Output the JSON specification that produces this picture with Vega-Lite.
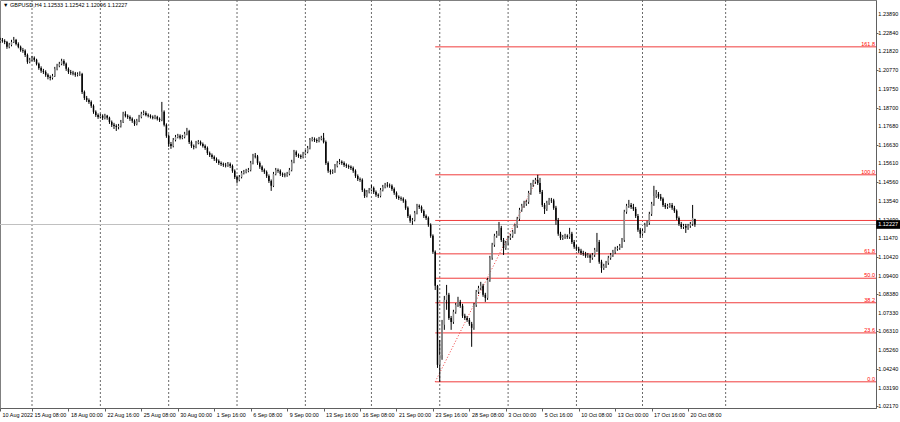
{
"$schema": "https://vega.github.io/schema/vega-lite/v6.json",
"width": 876, "height": 408,
"autosize": "none",
"padding": {"left": 0, "top": 0, "right": 24, "bottom": 14},
"background": "white",
"config": {"view": {"stroke": "#808080"}, "font": "Liberation Sans",
  "axis": {"labelOverlap": false, "labelBound": false, "labelFlush": false}},
"title": {"text": "\u25bc GBPUSD,H4  1.12533 1.12542 1.12096 1.12227", "anchor": "start", "frame": "group", "orient": "top", "offset": -9, "fontSize": 5.5, "fontWeight": "normal", "color": "#000000", "dx": 3},
"datasets": {
"grid": [{"i":0},{"i":30},{"i":60},{"i":90},{"i":120},{"i":149},{"i":179},{"i":209},{"i":239},{"i":268},{"i":304.5}],
"ticks": [{"v":1.0217,"t":"1.02170","x":371.1},{"v":1.0319,"t":"1.03190","x":371.1},{"v":1.0424,"t":"1.04240","x":371.1},{"v":1.0526,"t":"1.05260","x":371.1},{"v":1.0631,"t":"1.06310","x":371.1},{"v":1.0733,"t":"1.07330","x":371.1},{"v":1.0838,"t":"1.08380","x":371.1},{"v":1.094,"t":"1.09400","x":371.1},{"v":1.1042,"t":"1.10420","x":371.1},{"v":1.1147,"t":"1.11470","x":371.1},{"v":1.1249,"t":"1.12490","x":371.1},{"v":1.1354,"t":"1.13540","x":371.1},{"v":1.1456,"t":"1.14560","x":371.1},{"v":1.1561,"t":"1.15610","x":371.1},{"v":1.1663,"t":"1.16630","x":371.1},{"v":1.1768,"t":"1.17680","x":371.1},{"v":1.187,"t":"1.18700","x":371.1},{"v":1.1975,"t":"1.19750","x":371.1},{"v":1.2077,"t":"1.20770","x":371.1},{"v":1.2182,"t":"1.21820","x":371.1},{"v":1.2284,"t":"1.22840","x":371.1},{"v":1.2389,"t":"1.23890","x":371.1}],
"fib": [{"lvl":"161.8","p":1.2207,"s":177,"e":370.5},{"lvl":"100.0","p":1.1498,"s":177,"e":370.5},{"lvl":"61.8","p":1.1060,"s":177,"e":370.5},{"lvl":"50.0","p":1.0925,"s":177,"e":370.5},{"lvl":"38.2","p":1.0789,"s":177,"e":370.5},{"lvl":"23.6","p":1.0622,"s":177,"e":370.5},{"lvl":"0.0","p":1.0351,"s":177,"e":370.5},{"lvl":"","p":1.1245,"s":177,"e":370.5}],
"trend": [{"x1":177,"y1":1.0351,"x2":222.6,"y2":1.1498}],
"last": [{"p":1.12227,"lo":1.11987,"hi":1.12467,"a":370.6,"b":381.6,"t":"1.12227"}],
"bars": [
{"i":-14,"o":1.2238,"h":1.2257,"l":1.2229,"c":1.2245},
{"i":-13,"o":1.2245,"h":1.2256,"l":1.2230,"c":1.2240},
{"i":-12,"o":1.2240,"h":1.2249,"l":1.2222,"c":1.2234},
{"i":-11,"o":1.2234,"h":1.2240,"l":1.2196,"c":1.2207},
{"i":-10,"o":1.2207,"h":1.2229,"l":1.2199,"c":1.2218},
{"i":-9,"o":1.2218,"h":1.2246,"l":1.2210,"c":1.2234},
{"i":-8,"o":1.2234,"h":1.2262,"l":1.2228,"c":1.2245},
{"i":-7,"o":1.2245,"h":1.2251,"l":1.2215,"c":1.2223},
{"i":-6,"o":1.2223,"h":1.2232,"l":1.2199,"c":1.2207},
{"i":-5,"o":1.2207,"h":1.2214,"l":1.2180,"c":1.2190},
{"i":-4,"o":1.2190,"h":1.2201,"l":1.2174,"c":1.2185},
{"i":-3,"o":1.2185,"h":1.2193,"l":1.2151,"c":1.2162},
{"i":-2,"o":1.2162,"h":1.2170,"l":1.2113,"c":1.2124},
{"i":-1,"o":1.2124,"h":1.2146,"l":1.2116,"c":1.2135},
{"i":0,"o":1.2135,"h":1.2157,"l":1.2127,"c":1.2146},
{"i":1,"o":1.2146,"h":1.2154,"l":1.2124,"c":1.2135},
{"i":2,"o":1.2135,"h":1.2141,"l":1.2104,"c":1.2113},
{"i":3,"o":1.2113,"h":1.2120,"l":1.2080,"c":1.2090},
{"i":4,"o":1.2090,"h":1.2099,"l":1.2063,"c":1.2074},
{"i":5,"o":1.2074,"h":1.2085,"l":1.2057,"c":1.2068},
{"i":6,"o":1.2068,"h":1.2077,"l":1.2041,"c":1.2052},
{"i":7,"o":1.2052,"h":1.2060,"l":1.2027,"c":1.2040},
{"i":8,"o":1.2040,"h":1.2049,"l":1.2021,"c":1.2035},
{"i":9,"o":1.2035,"h":1.2057,"l":1.2026,"c":1.2046},
{"i":10,"o":1.2046,"h":1.2096,"l":1.2040,"c":1.2085},
{"i":11,"o":1.2085,"h":1.2113,"l":1.2077,"c":1.2102},
{"i":12,"o":1.2102,"h":1.2124,"l":1.2094,"c":1.2113},
{"i":13,"o":1.2113,"h":1.2141,"l":1.2105,"c":1.2129},
{"i":14,"o":1.2129,"h":1.2138,"l":1.2102,"c":1.2113},
{"i":15,"o":1.2113,"h":1.2120,"l":1.2074,"c":1.2085},
{"i":16,"o":1.2085,"h":1.2093,"l":1.2057,"c":1.2068},
{"i":17,"o":1.2068,"h":1.2079,"l":1.2052,"c":1.2063},
{"i":18,"o":1.2063,"h":1.2074,"l":1.2049,"c":1.2060},
{"i":19,"o":1.2060,"h":1.2068,"l":1.2041,"c":1.2052},
{"i":20,"o":1.2052,"h":1.2066,"l":1.2043,"c":1.2055},
{"i":21,"o":1.2055,"h":1.2071,"l":1.2046,"c":1.2057},
{"i":22,"o":1.2057,"h":1.2063,"l":1.1946,"c":1.1957},
{"i":23,"o":1.1957,"h":1.1965,"l":1.1913,"c":1.1924},
{"i":24,"o":1.1924,"h":1.1935,"l":1.1902,"c":1.1913},
{"i":25,"o":1.1913,"h":1.1921,"l":1.1891,"c":1.1902},
{"i":26,"o":1.1902,"h":1.1910,"l":1.1869,"c":1.1880},
{"i":27,"o":1.1880,"h":1.1888,"l":1.1836,"c":1.1847},
{"i":28,"o":1.1847,"h":1.1855,"l":1.1819,"c":1.1830},
{"i":29,"o":1.1830,"h":1.1838,"l":1.1808,"c":1.1819},
{"i":30,"o":1.1819,"h":1.1836,"l":1.1810,"c":1.1825},
{"i":31,"o":1.1825,"h":1.1833,"l":1.1802,"c":1.1814},
{"i":32,"o":1.1814,"h":1.1836,"l":1.1805,"c":1.1825},
{"i":33,"o":1.1825,"h":1.1830,"l":1.1803,"c":1.1814},
{"i":34,"o":1.1814,"h":1.1820,"l":1.1780,"c":1.1791},
{"i":35,"o":1.1791,"h":1.1799,"l":1.1763,"c":1.1775},
{"i":36,"o":1.1775,"h":1.1786,"l":1.1752,"c":1.1769},
{"i":37,"o":1.1769,"h":1.1778,"l":1.1741,"c":1.1763},
{"i":38,"o":1.1763,"h":1.1780,"l":1.1750,"c":1.1769},
{"i":39,"o":1.1769,"h":1.1802,"l":1.1760,"c":1.1791},
{"i":40,"o":1.1791,"h":1.1847,"l":1.1785,"c":1.1836},
{"i":41,"o":1.1836,"h":1.1850,"l":1.1816,"c":1.1825},
{"i":42,"o":1.1825,"h":1.1833,"l":1.1808,"c":1.1819},
{"i":43,"o":1.1819,"h":1.1827,"l":1.1797,"c":1.1808},
{"i":44,"o":1.1808,"h":1.1816,"l":1.1786,"c":1.1797},
{"i":45,"o":1.1797,"h":1.1805,"l":1.1769,"c":1.1780},
{"i":46,"o":1.1780,"h":1.1808,"l":1.1772,"c":1.1797},
{"i":47,"o":1.1797,"h":1.1830,"l":1.1790,"c":1.1819},
{"i":48,"o":1.1819,"h":1.1847,"l":1.1811,"c":1.1836},
{"i":49,"o":1.1836,"h":1.1855,"l":1.1828,"c":1.1841},
{"i":50,"o":1.1841,"h":1.1850,"l":1.1822,"c":1.1830},
{"i":51,"o":1.1830,"h":1.1838,"l":1.1816,"c":1.1825},
{"i":52,"o":1.1825,"h":1.1833,"l":1.1810,"c":1.1819},
{"i":53,"o":1.1819,"h":1.1827,"l":1.1805,"c":1.1814},
{"i":54,"o":1.1814,"h":1.1830,"l":1.1806,"c":1.1819},
{"i":55,"o":1.1819,"h":1.1825,"l":1.1799,"c":1.1808},
{"i":56,"o":1.1808,"h":1.1816,"l":1.1791,"c":1.1802},
{"i":57,"o":1.1802,"h":1.1902,"l":1.1795,"c":1.1847},
{"i":58,"o":1.1847,"h":1.1855,"l":1.1766,"c":1.1775},
{"i":59,"o":1.1775,"h":1.1783,"l":1.1703,"c":1.1714},
{"i":60,"o":1.1714,"h":1.1722,"l":1.1653,"c":1.1669},
{"i":61,"o":1.1669,"h":1.1680,"l":1.1642,"c":1.1658},
{"i":62,"o":1.1658,"h":1.1702,"l":1.1650,"c":1.1691},
{"i":63,"o":1.1691,"h":1.1719,"l":1.1683,"c":1.1708},
{"i":64,"o":1.1708,"h":1.1725,"l":1.1700,"c":1.1714},
{"i":65,"o":1.1714,"h":1.1722,"l":1.1694,"c":1.1703},
{"i":66,"o":1.1703,"h":1.1719,"l":1.1695,"c":1.1708},
{"i":67,"o":1.1708,"h":1.1736,"l":1.1700,"c":1.1725},
{"i":68,"o":1.1725,"h":1.1758,"l":1.1717,"c":1.1741},
{"i":69,"o":1.1741,"h":1.1747,"l":1.1669,"c":1.1680},
{"i":70,"o":1.1680,"h":1.1688,"l":1.1647,"c":1.1658},
{"i":71,"o":1.1658,"h":1.1666,"l":1.1639,"c":1.1653},
{"i":72,"o":1.1653,"h":1.1686,"l":1.1645,"c":1.1675},
{"i":73,"o":1.1675,"h":1.1691,"l":1.1667,"c":1.1680},
{"i":74,"o":1.1680,"h":1.1688,"l":1.1660,"c":1.1669},
{"i":75,"o":1.1669,"h":1.1677,"l":1.1649,"c":1.1658},
{"i":76,"o":1.1658,"h":1.1666,"l":1.1636,"c":1.1647},
{"i":77,"o":1.1647,"h":1.1655,"l":1.1608,"c":1.1619},
{"i":78,"o":1.1619,"h":1.1627,"l":1.1597,"c":1.1608},
{"i":79,"o":1.1608,"h":1.1616,"l":1.1586,"c":1.1597},
{"i":80,"o":1.1597,"h":1.1605,"l":1.1575,"c":1.1586},
{"i":81,"o":1.1586,"h":1.1594,"l":1.1564,"c":1.1575},
{"i":82,"o":1.1575,"h":1.1583,"l":1.1553,"c":1.1564},
{"i":83,"o":1.1564,"h":1.1572,"l":1.1547,"c":1.1558},
{"i":84,"o":1.1558,"h":1.1566,"l":1.1542,"c":1.1553},
{"i":85,"o":1.1553,"h":1.1564,"l":1.1539,"c":1.1550},
{"i":86,"o":1.1550,"h":1.1569,"l":1.1542,"c":1.1558},
{"i":87,"o":1.1558,"h":1.1566,"l":1.1536,"c":1.1547},
{"i":88,"o":1.1547,"h":1.1555,"l":1.1509,"c":1.1520},
{"i":89,"o":1.1520,"h":1.1528,"l":1.1475,"c":1.1486},
{"i":90,"o":1.1486,"h":1.1494,"l":1.1450,"c":1.1470},
{"i":91,"o":1.1470,"h":1.1497,"l":1.1462,"c":1.1486},
{"i":92,"o":1.1486,"h":1.1519,"l":1.1478,"c":1.1508},
{"i":93,"o":1.1508,"h":1.1525,"l":1.1500,"c":1.1514},
{"i":94,"o":1.1514,"h":1.1531,"l":1.1506,"c":1.1520},
{"i":95,"o":1.1520,"h":1.1536,"l":1.1512,"c":1.1525},
{"i":96,"o":1.1525,"h":1.1575,"l":1.1517,"c":1.1564},
{"i":97,"o":1.1564,"h":1.1614,"l":1.1556,"c":1.1603},
{"i":98,"o":1.1603,"h":1.1619,"l":1.1589,"c":1.1600},
{"i":99,"o":1.1600,"h":1.1608,"l":1.1553,"c":1.1564},
{"i":100,"o":1.1564,"h":1.1572,"l":1.1531,"c":1.1542},
{"i":101,"o":1.1542,"h":1.1550,"l":1.1514,"c":1.1525},
{"i":102,"o":1.1525,"h":1.1533,"l":1.1503,"c":1.1514},
{"i":103,"o":1.1514,"h":1.1522,"l":1.1481,"c":1.1492},
{"i":104,"o":1.1492,"h":1.1500,"l":1.1453,"c":1.1464},
{"i":105,"o":1.1464,"h":1.1472,"l":1.1409,"c":1.1437},
{"i":106,"o":1.1437,"h":1.1514,"l":1.1430,"c":1.1503},
{"i":107,"o":1.1503,"h":1.1536,"l":1.1495,"c":1.1525},
{"i":108,"o":1.1525,"h":1.1533,"l":1.1509,"c":1.1520},
{"i":109,"o":1.1520,"h":1.1528,"l":1.1492,"c":1.1503},
{"i":110,"o":1.1503,"h":1.1511,"l":1.1486,"c":1.1498},
{"i":111,"o":1.1498,"h":1.1509,"l":1.1484,"c":1.1495},
{"i":112,"o":1.1495,"h":1.1514,"l":1.1487,"c":1.1503},
{"i":113,"o":1.1503,"h":1.1536,"l":1.1495,"c":1.1525},
{"i":114,"o":1.1525,"h":1.1581,"l":1.1517,"c":1.1570},
{"i":115,"o":1.1570,"h":1.1636,"l":1.1562,"c":1.1625},
{"i":116,"o":1.1625,"h":1.1633,"l":1.1597,"c":1.1608},
{"i":117,"o":1.1608,"h":1.1616,"l":1.1592,"c":1.1603},
{"i":118,"o":1.1603,"h":1.1611,"l":1.1586,"c":1.1597},
{"i":119,"o":1.1597,"h":1.1625,"l":1.1589,"c":1.1614},
{"i":120,"o":1.1614,"h":1.1636,"l":1.1606,"c":1.1625},
{"i":121,"o":1.1625,"h":1.1658,"l":1.1617,"c":1.1647},
{"i":122,"o":1.1647,"h":1.1702,"l":1.1639,"c":1.1691},
{"i":123,"o":1.1691,"h":1.1708,"l":1.1683,"c":1.1697},
{"i":124,"o":1.1697,"h":1.1705,"l":1.1680,"c":1.1691},
{"i":125,"o":1.1691,"h":1.1700,"l":1.1675,"c":1.1686},
{"i":126,"o":1.1686,"h":1.1708,"l":1.1678,"c":1.1697},
{"i":127,"o":1.1697,"h":1.1714,"l":1.1689,"c":1.1703},
{"i":128,"o":1.1703,"h":1.1730,"l":1.1672,"c":1.1680},
{"i":129,"o":1.1680,"h":1.1688,"l":1.1553,"c":1.1564},
{"i":130,"o":1.1564,"h":1.1572,"l":1.1509,"c":1.1520},
{"i":131,"o":1.1520,"h":1.1528,"l":1.1500,"c":1.1514},
{"i":132,"o":1.1514,"h":1.1528,"l":1.1503,"c":1.1517},
{"i":133,"o":1.1517,"h":1.1558,"l":1.1509,"c":1.1547},
{"i":134,"o":1.1547,"h":1.1575,"l":1.1539,"c":1.1564},
{"i":135,"o":1.1564,"h":1.1586,"l":1.1556,"c":1.1570},
{"i":136,"o":1.1570,"h":1.1578,"l":1.1553,"c":1.1564},
{"i":137,"o":1.1564,"h":1.1572,"l":1.1542,"c":1.1553},
{"i":138,"o":1.1553,"h":1.1561,"l":1.1536,"c":1.1547},
{"i":139,"o":1.1547,"h":1.1555,"l":1.1531,"c":1.1542},
{"i":140,"o":1.1542,"h":1.1550,"l":1.1525,"c":1.1536},
{"i":141,"o":1.1536,"h":1.1544,"l":1.1509,"c":1.1520},
{"i":142,"o":1.1520,"h":1.1528,"l":1.1481,"c":1.1492},
{"i":143,"o":1.1492,"h":1.1500,"l":1.1464,"c":1.1475},
{"i":144,"o":1.1475,"h":1.1483,"l":1.1459,"c":1.1470},
{"i":145,"o":1.1470,"h":1.1478,"l":1.1403,"c":1.1414},
{"i":146,"o":1.1414,"h":1.1422,"l":1.1370,"c":1.1381},
{"i":147,"o":1.1381,"h":1.1414,"l":1.1373,"c":1.1403},
{"i":148,"o":1.1403,"h":1.1425,"l":1.1395,"c":1.1414},
{"i":149,"o":1.1414,"h":1.1442,"l":1.1406,"c":1.1425},
{"i":150,"o":1.1425,"h":1.1433,"l":1.1392,"c":1.1403},
{"i":151,"o":1.1403,"h":1.1411,"l":1.1376,"c":1.1387},
{"i":152,"o":1.1387,"h":1.1395,"l":1.1370,"c":1.1381},
{"i":153,"o":1.1381,"h":1.1425,"l":1.1373,"c":1.1414},
{"i":154,"o":1.1414,"h":1.1442,"l":1.1406,"c":1.1431},
{"i":155,"o":1.1431,"h":1.1453,"l":1.1423,"c":1.1442},
{"i":156,"o":1.1442,"h":1.1458,"l":1.1428,"c":1.1439},
{"i":157,"o":1.1439,"h":1.1450,"l":1.1426,"c":1.1437},
{"i":158,"o":1.1437,"h":1.1445,"l":1.1409,"c":1.1420},
{"i":159,"o":1.1420,"h":1.1428,"l":1.1387,"c":1.1398},
{"i":160,"o":1.1398,"h":1.1406,"l":1.1365,"c":1.1376},
{"i":161,"o":1.1376,"h":1.1384,"l":1.1359,"c":1.1370},
{"i":162,"o":1.1370,"h":1.1378,"l":1.1354,"c":1.1365},
{"i":163,"o":1.1365,"h":1.1373,"l":1.1343,"c":1.1354},
{"i":164,"o":1.1354,"h":1.1362,"l":1.1304,"c":1.1315},
{"i":165,"o":1.1315,"h":1.1323,"l":1.1259,"c":1.1270},
{"i":166,"o":1.1270,"h":1.1278,"l":1.1232,"c":1.1243},
{"i":167,"o":1.1243,"h":1.1259,"l":1.1221,"c":1.1248},
{"i":168,"o":1.1248,"h":1.1298,"l":1.1240,"c":1.1287},
{"i":169,"o":1.1287,"h":1.1337,"l":1.1279,"c":1.1326},
{"i":170,"o":1.1326,"h":1.1334,"l":1.1309,"c":1.1320},
{"i":171,"o":1.1320,"h":1.1328,"l":1.1287,"c":1.1298},
{"i":172,"o":1.1298,"h":1.1306,"l":1.1259,"c":1.1270},
{"i":173,"o":1.1270,"h":1.1278,"l":1.1248,"c":1.1259},
{"i":174,"o":1.1259,"h":1.1267,"l":1.1210,"c":1.1221},
{"i":175,"o":1.1221,"h":1.1229,"l":1.1149,"c":1.1160},
{"i":176,"o":1.1160,"h":1.1168,"l":1.1060,"c":1.1071},
{"i":177,"o":1.1071,"h":1.1079,"l":1.0860,"c":1.0883},
{"i":178,"o":1.0883,"h":1.0888,"l":1.0428,"c":1.0445},
{"i":179,"o":1.0445,"h":1.0583,"l":1.0351,"c":1.0500},
{"i":180,"o":1.0500,"h":1.0694,"l":1.0473,"c":1.0667},
{"i":181,"o":1.0667,"h":1.0827,"l":1.0639,"c":1.0805},
{"i":182,"o":1.0805,"h":1.0888,"l":1.0750,"c":1.0833},
{"i":183,"o":1.0833,"h":1.0844,"l":1.0694,"c":1.0705},
{"i":184,"o":1.0705,"h":1.0716,"l":1.0639,"c":1.0683},
{"i":185,"o":1.0683,"h":1.0750,"l":1.0672,"c":1.0739},
{"i":186,"o":1.0739,"h":1.0788,"l":1.0728,"c":1.0777},
{"i":187,"o":1.0777,"h":1.0822,"l":1.0766,"c":1.0794},
{"i":188,"o":1.0794,"h":1.0805,"l":1.0761,"c":1.0772},
{"i":189,"o":1.0772,"h":1.0783,"l":1.0705,"c":1.0717},
{"i":190,"o":1.0717,"h":1.0728,"l":1.0694,"c":1.0705},
{"i":191,"o":1.0705,"h":1.0716,"l":1.0683,"c":1.0694},
{"i":192,"o":1.0694,"h":1.0705,"l":1.0661,"c":1.0672},
{"i":193,"o":1.0672,"h":1.0683,"l":1.0545,"c":1.0650},
{"i":194,"o":1.0650,"h":1.0788,"l":1.0639,"c":1.0777},
{"i":195,"o":1.0777,"h":1.0860,"l":1.0766,"c":1.0849},
{"i":196,"o":1.0849,"h":1.0883,"l":1.0838,"c":1.0871},
{"i":197,"o":1.0871,"h":1.0905,"l":1.0860,"c":1.0883},
{"i":198,"o":1.0883,"h":1.0894,"l":1.0822,"c":1.0833},
{"i":199,"o":1.0833,"h":1.0844,"l":1.0794,"c":1.0816},
{"i":200,"o":1.0816,"h":1.0927,"l":1.0805,"c":1.0916},
{"i":201,"o":1.0916,"h":1.1049,"l":1.0905,"c":1.1038},
{"i":202,"o":1.1038,"h":1.1121,"l":1.1027,"c":1.1110},
{"i":203,"o":1.1110,"h":1.1171,"l":1.1099,"c":1.1160},
{"i":204,"o":1.1160,"h":1.1187,"l":1.1149,"c":1.1171},
{"i":205,"o":1.1171,"h":1.1237,"l":1.1160,"c":1.1204},
{"i":206,"o":1.1204,"h":1.1215,"l":1.1126,"c":1.1137},
{"i":207,"o":1.1137,"h":1.1148,"l":1.1054,"c":1.1093},
{"i":208,"o":1.1093,"h":1.1132,"l":1.1082,"c":1.1121},
{"i":209,"o":1.1121,"h":1.1160,"l":1.1110,"c":1.1148},
{"i":210,"o":1.1148,"h":1.1171,"l":1.1137,"c":1.1160},
{"i":211,"o":1.1160,"h":1.1193,"l":1.1149,"c":1.1182},
{"i":212,"o":1.1182,"h":1.1226,"l":1.1171,"c":1.1215},
{"i":213,"o":1.1215,"h":1.1265,"l":1.1204,"c":1.1254},
{"i":214,"o":1.1254,"h":1.1315,"l":1.1243,"c":1.1304},
{"i":215,"o":1.1304,"h":1.1337,"l":1.1293,"c":1.1326},
{"i":216,"o":1.1326,"h":1.1354,"l":1.1315,"c":1.1337},
{"i":217,"o":1.1337,"h":1.1359,"l":1.1326,"c":1.1348},
{"i":218,"o":1.1348,"h":1.1409,"l":1.1337,"c":1.1398},
{"i":219,"o":1.1398,"h":1.1453,"l":1.1387,"c":1.1442},
{"i":220,"o":1.1442,"h":1.1470,"l":1.1431,"c":1.1459},
{"i":221,"o":1.1459,"h":1.1481,"l":1.1448,"c":1.1470},
{"i":222,"o":1.1470,"h":1.1498,"l":1.1442,"c":1.1453},
{"i":223,"o":1.1453,"h":1.1481,"l":1.1392,"c":1.1403},
{"i":224,"o":1.1403,"h":1.1414,"l":1.1320,"c":1.1331},
{"i":225,"o":1.1331,"h":1.1342,"l":1.1281,"c":1.1309},
{"i":226,"o":1.1309,"h":1.1354,"l":1.1298,"c":1.1342},
{"i":227,"o":1.1342,"h":1.1370,"l":1.1331,"c":1.1359},
{"i":228,"o":1.1359,"h":1.1370,"l":1.1342,"c":1.1356},
{"i":229,"o":1.1356,"h":1.1365,"l":1.1304,"c":1.1315},
{"i":230,"o":1.1315,"h":1.1326,"l":1.1221,"c":1.1248},
{"i":231,"o":1.1248,"h":1.1259,"l":1.1160,"c":1.1171},
{"i":232,"o":1.1171,"h":1.1182,"l":1.1137,"c":1.1148},
{"i":233,"o":1.1148,"h":1.1165,"l":1.1137,"c":1.1154},
{"i":234,"o":1.1154,"h":1.1171,"l":1.1143,"c":1.1160},
{"i":235,"o":1.1160,"h":1.1168,"l":1.1143,"c":1.1154},
{"i":236,"o":1.1154,"h":1.1204,"l":1.1143,"c":1.1171},
{"i":237,"o":1.1171,"h":1.1182,"l":1.1115,"c":1.1126},
{"i":238,"o":1.1126,"h":1.1137,"l":1.1088,"c":1.1099},
{"i":239,"o":1.1099,"h":1.1110,"l":1.1077,"c":1.1088},
{"i":240,"o":1.1088,"h":1.1099,"l":1.1065,"c":1.1077},
{"i":241,"o":1.1077,"h":1.1088,"l":1.1054,"c":1.1065},
{"i":242,"o":1.1065,"h":1.1077,"l":1.1049,"c":1.1060},
{"i":243,"o":1.1060,"h":1.1071,"l":1.1038,"c":1.1049},
{"i":244,"o":1.1049,"h":1.1065,"l":1.1038,"c":1.1052},
{"i":245,"o":1.1052,"h":1.1060,"l":1.1010,"c":1.1038},
{"i":246,"o":1.1038,"h":1.1065,"l":1.1027,"c":1.1054},
{"i":247,"o":1.1054,"h":1.1093,"l":1.1043,"c":1.1082},
{"i":248,"o":1.1082,"h":1.1176,"l":1.1071,"c":1.1126},
{"i":249,"o":1.1126,"h":1.1137,"l":1.1005,"c":1.1016},
{"i":250,"o":1.1016,"h":1.1027,"l":1.0955,"c":1.0982},
{"i":251,"o":1.0982,"h":1.1005,"l":1.0971,"c":1.0993},
{"i":252,"o":1.0993,"h":1.1021,"l":1.0982,"c":1.1010},
{"i":253,"o":1.1010,"h":1.1049,"l":1.0999,"c":1.1038},
{"i":254,"o":1.1038,"h":1.1065,"l":1.1027,"c":1.1054},
{"i":255,"o":1.1054,"h":1.1082,"l":1.1043,"c":1.1071},
{"i":256,"o":1.1071,"h":1.1099,"l":1.1060,"c":1.1088},
{"i":257,"o":1.1088,"h":1.1104,"l":1.1077,"c":1.1093},
{"i":258,"o":1.1093,"h":1.1115,"l":1.1082,"c":1.1104},
{"i":259,"o":1.1104,"h":1.1148,"l":1.1093,"c":1.1137},
{"i":260,"o":1.1137,"h":1.1304,"l":1.1126,"c":1.1293},
{"i":261,"o":1.1293,"h":1.1337,"l":1.1282,"c":1.1326},
{"i":262,"o":1.1326,"h":1.1359,"l":1.1315,"c":1.1331},
{"i":263,"o":1.1331,"h":1.1342,"l":1.1309,"c":1.1320},
{"i":264,"o":1.1320,"h":1.1337,"l":1.1298,"c":1.1309},
{"i":265,"o":1.1309,"h":1.1320,"l":1.1259,"c":1.1270},
{"i":266,"o":1.1270,"h":1.1281,"l":1.1182,"c":1.1193},
{"i":267,"o":1.1193,"h":1.1204,"l":1.1148,"c":1.1171},
{"i":268,"o":1.1171,"h":1.1198,"l":1.1160,"c":1.1187},
{"i":269,"o":1.1187,"h":1.1232,"l":1.1176,"c":1.1221},
{"i":270,"o":1.1221,"h":1.1243,"l":1.1210,"c":1.1232},
{"i":271,"o":1.1232,"h":1.1293,"l":1.1221,"c":1.1281},
{"i":272,"o":1.1281,"h":1.1348,"l":1.1270,"c":1.1337},
{"i":273,"o":1.1337,"h":1.1437,"l":1.1326,"c":1.1381},
{"i":274,"o":1.1381,"h":1.1414,"l":1.1370,"c":1.1392},
{"i":275,"o":1.1392,"h":1.1403,"l":1.1365,"c":1.1376},
{"i":276,"o":1.1376,"h":1.1392,"l":1.1354,"c":1.1365},
{"i":277,"o":1.1365,"h":1.1373,"l":1.1320,"c":1.1331},
{"i":278,"o":1.1331,"h":1.1342,"l":1.1309,"c":1.1320},
{"i":279,"o":1.1320,"h":1.1337,"l":1.1309,"c":1.1326},
{"i":280,"o":1.1326,"h":1.1342,"l":1.1315,"c":1.1331},
{"i":281,"o":1.1331,"h":1.1342,"l":1.1304,"c":1.1315},
{"i":282,"o":1.1315,"h":1.1326,"l":1.1287,"c":1.1298},
{"i":283,"o":1.1298,"h":1.1306,"l":1.1248,"c":1.1259},
{"i":284,"o":1.1259,"h":1.1267,"l":1.1215,"c":1.1226},
{"i":285,"o":1.1226,"h":1.1237,"l":1.1198,"c":1.1209},
{"i":286,"o":1.1209,"h":1.1226,"l":1.1198,"c":1.1215},
{"i":287,"o":1.1215,"h":1.1226,"l":1.1176,"c":1.1204},
{"i":288,"o":1.1204,"h":1.1226,"l":1.1193,"c":1.1215},
{"i":289,"o":1.1215,"h":1.1237,"l":1.1204,"c":1.1226},
{"i":290,"o":1.1226,"h":1.1331,"l":1.1215,"c":1.1259},
{"i":291,"o":1.12533,"h":1.12542,"l":1.12096,"c":1.12227}
]
},
"layer": [
{"data": {"name": "grid"}, "mark": {"type": "rule", "color": "#6a6a6a", "strokeWidth": 1, "strokeDash": [2, 2]},
 "encoding": {"x": {"field": "i", "type": "quantitative", "scale": {"domain": [-14.05, 370.5], "nice": false, "zero": false, "padding": 0},
   "axis": {"orient": "bottom", "title": null, "grid": false, "values": [-14,0,16,32,48,64,80,96,112,128,144,160,176,192,208,224,240,256,272,288],
   "labelExpr": "datum.value < 0 ? '10 Aug 2022' : ['15 Aug 08:00','18 Aug 00:00','22 Aug 16:00','25 Aug 08:00','30 Aug 00:00','1 Sep 16:00','6 Sep 08:00','9 Sep 00:00','13 Sep 16:00','16 Sep 08:00','21 Sep 00:00','23 Sep 16:00','28 Sep 08:00','3 Oct 00:00','5 Oct 16:00','10 Oct 08:00','13 Oct 00:00','17 Oct 16:00','20 Oct 08:00'][round(datum.value/16)]",
   "labelAlign": "left", "labelBaseline": "top", "labelOffset": 2, "labelPadding": 1, "labelFontSize": 5.4, "labelColor": "#000000", "labelOverlap": false, "labelBound": false, "labelFlush": false,
   "tickSize": 3, "tickColor": "#606060", "domainColor": "#606060"}}}},
{"data": {"name": "ticks"}, "mark": {"type": "text", "color": "#000000", "fontSize": 5.5, "align": "left", "baseline": "middle", "dx": 1},
 "encoding": {"y": {"field": "v", "type": "quantitative", "scale": {"domain": [1.02059, 1.24666], "nice": false, "zero": false, "padding": 0},
   "axis": {"orient": "right", "title": null, "grid": false, "values": [1.0217,1.0319,1.0424,1.0526,1.0631,1.0733,1.0838,1.094,1.1042,1.1147,1.1249,1.1354,1.1456,1.1561,1.1663,1.1768,1.187,1.1975,1.2077,1.2182,1.2284,1.2389],
   "labels": false, "tickSize": 2, "tickColor": "#606060", "domainColor": "#606060"}},
   "x": {"field": "x", "type": "quantitative"}, "text": {"field": "t"}}},
{"data": {"name": "last"}, "mark": {"type": "rule", "color": "#c0c0c0", "strokeWidth": 1},
 "encoding": {"y": {"field": "p", "type": "quantitative"}}},
{"data": {"name": "fib"}, "mark": {"type": "rule", "color": "#f03c3c", "strokeWidth": 1},
 "encoding": {"x": {"field": "s", "type": "quantitative"}, "x2": {"field": "e"}, "y": {"field": "p", "type": "quantitative"}}},
{"data": {"name": "trend"}, "mark": {"type": "rule", "color": "#f03c3c", "strokeWidth": 1, "strokeDash": [1, 2]},
 "encoding": {"x": {"field": "x1", "type": "quantitative"}, "x2": {"field": "x2"}, "y": {"field": "y1", "type": "quantitative"}, "y2": {"field": "y2"}}},
{"data": {"name": "bars"}, "mark": {"type": "rule", "strokeWidth": 1, "color": "#000000"},
 "encoding": {"x": {"field": "i", "type": "quantitative"}, "y": {"field": "l", "type": "quantitative"}, "y2": {"field": "h"}}},
{"data": {"name": "bars"}, "mark": {"type": "bar", "width": 1.5, "orient": "vertical"},
 "encoding": {"x": {"field": "i", "type": "quantitative"}, "y": {"field": "o", "type": "quantitative"}, "y2": {"field": "c"},
   "color": {"condition": {"test": "datum.c >= datum.o", "value": "#8c8c8c"}, "value": "#000000"}}},
{"data": {"name": "fib"}, "mark": {"type": "text", "color": "#ff0000", "fontSize": 5.5, "align": "right", "baseline": "bottom", "dx": -1, "dy": 0},
 "encoding": {"x": {"field": "e", "type": "quantitative"}, "y": {"field": "p", "type": "quantitative"}, "text": {"field": "lvl"}}},
{"data": {"name": "last"}, "mark": {"type": "rect", "color": "#000000"},
 "encoding": {"x": {"field": "a", "type": "quantitative"}, "x2": {"field": "b"}, "y": {"field": "lo", "type": "quantitative"}, "y2": {"field": "hi"}}},
{"data": {"name": "last"}, "mark": {"type": "text", "color": "#ffffff", "fontSize": 5.5, "align": "left", "baseline": "middle", "dx": 2},
 "encoding": {"x": {"field": "a", "type": "quantitative"}, "y": {"field": "p", "type": "quantitative"}, "text": {"field": "t"}}}
]
}
